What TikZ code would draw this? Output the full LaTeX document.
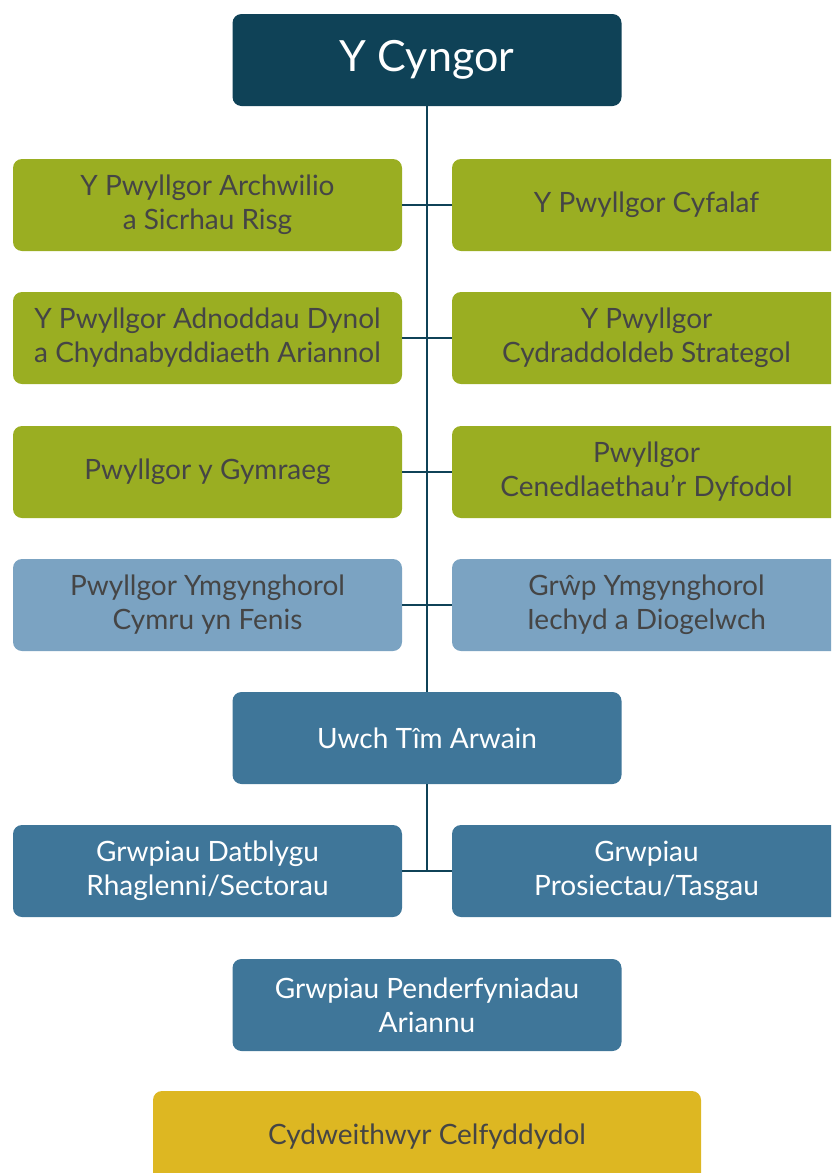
\documentclass[tikz,border=0pt]{standalone}
\usepackage{fontspec}
\setmainfont{Lato}
\usetikzlibrary{positioning,calc}
\definecolor{cyngorblue}{HTML}{0F4257}
\definecolor{pwyllgorgreen}{HTML}{9AAE22}
\definecolor{ymgynghorblue}{HTML}{7BA3C2}
\definecolor{timblue}{HTML}{3F7699}
\definecolor{celfyellow}{HTML}{DDB722}
\definecolor{textgrey}{HTML}{454545}
\tikzset{
	box/.style={rounded corners=9pt, minimum width=389pt, minimum height=92pt, align=center, inner sep=0pt, text=textgrey, font=\fontsize{28}{34}\selectfont},
	greenbox/.style={box, fill=pwyllgorgreen},
	lightbox/.style={box, fill=ymgynghorblue},
	teambox/.style={box, fill=timblue, text=white},
	link/.style={draw=cyngorblue, line width=2pt},
}

\begin{document}
\begin{tikzpicture}[x=1pt, y=-1pt]
	\useasboundingbox (0,0) rectangle (831,1173);
	\clip (0,0) rectangle (831,1173);
	\begin{scope}
		\node[box, fill=cyngorblue, text=white, font=\fontsize{43}{50}\selectfont] (cyngor) at (427, 60) {Y Cyngor};

		% pwyllgorau
		\node[greenbox] (archwilio) at (207.5, 205) {Y Pwyllgor Archwilio\\a Sicrhau Risg};
		\node[greenbox] (cyfalaf)   at (646.5, 205) {Y Pwyllgor Cyfalaf};
		\node[greenbox] (adnoddau)  at (207.5, 338) {Y Pwyllgor Adnoddau Dynol\\a Chydnabyddiaeth Ariannol};
		\node[greenbox] (cydradd)   at (646.5, 338) {Y Pwyllgor\\Cydraddoldeb Strategol};
		\node[greenbox] (gymraeg)   at (207.5, 472) {Pwyllgor y Gymraeg};
		\node[greenbox] (dyfodol)   at (646.5, 472) {Pwyllgor\\Cenedlaethau’r Dyfodol};
		\node[lightbox] (fenis)     at (207.5, 605) {Pwyllgor Ymgynghorol\\Cymru yn Fenis};
		\node[lightbox] (iechyd)    at (646.5, 605) {Grŵp Ymgynghorol\\Iechyd a Diogelwch};

		% tim
		\node[teambox] (uwch)       at (427, 738)   {Uwch Tîm Arwain};
		\node[teambox] (datblygu)   at (207.5, 871) {Grwpiau Datblygu\\Rhaglenni/Sectorau};
		\node[teambox] (prosiect)   at (646.5, 871) {Grwpiau\\Prosiectau/Tasgau};
		\node[teambox] (ariannu)    at (427, 1005)  {Grwpiau Penderfyniadau\\Ariannu};
		\node[box, fill=celfyellow, minimum width=548pt] (celf) at (427, 1137) {Cydweithwyr Celfyddydol};

		\draw[link] (cyngor) -- (uwch);
		\draw[link] (archwilio) -- (cyfalaf);
		\draw[link] (adnoddau) -- (cydradd);
		\draw[link] (gymraeg) -- (dyfodol);
		\draw[link] (fenis) -- (iechyd);
		\draw[link] (datblygu) -- (prosiect);
		\draw[link] (uwch) -- (uwch |- datblygu);
	\end{scope}
\end{tikzpicture}
\end{document}
